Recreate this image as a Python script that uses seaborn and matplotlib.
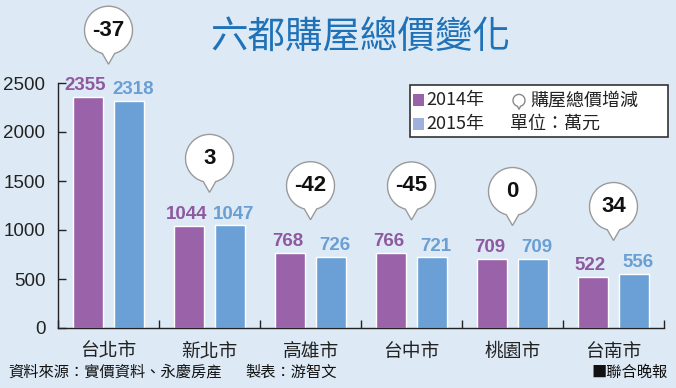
import pandas as pd
import matplotlib.pyplot as plt
import seaborn as sns
from matplotlib.path import Path
from matplotlib.patches import PathPatch, Rectangle
from matplotlib.transforms import ScaledTranslation
import numpy as np

# --- datos ---
ciudades = ['台北市', '新北市', '高雄市', '台中市', '桃園市', '台南市']
precio_2014 = [2355, 1044, 768, 766, 709, 522]
precio_2015 = [2318, 1047, 726, 721, 709, 556]
cambio = [-37, 3, -42, -45, 0, 34]
anios = ['2014年', '2015年']
y_ticks = [0, 500, 1000, 1500, 2000, 2500]

color_2014 = '#9a62a8'
color_2015 = '#6aa0d5'
fondo = '#ddeaf6'
cjk = ['Noto Sans CJK TC', 'DejaVu Sans']
num_font = ['Liberation Sans', 'DejaVu Sans']

df = pd.DataFrame({
    'ciudad': ciudades * 2,
    'anio': [anios[0]] * 6 + [anios[1]] * 6,
    'precio': precio_2014 + precio_2015,
})

sns.set_style('white')
plt.rcParams['font.family'] = cjk

fig = plt.figure(figsize=(6.76, 3.88), dpi=100, facecolor=fondo)
ax = fig.add_axes([58 / 676, 60 / 388, 606 / 676, 245 / 388])
ax.set_facecolor(fondo)

sns.barplot(data=df, x='ciudad', y='precio', hue='anio', order=ciudades,
            palette=[color_2014, color_2015], width=0.8, gap=0.25,
            saturation=1, legend=False, ax=ax)

ax.set_xlim(-0.5, 5.5)
ax.set_ylim(0, 2500)
ax.set_xlabel('')
ax.set_ylabel('')
for s in ['top', 'right']:
    ax.spines[s].set_visible(False)
for s in ['left', 'bottom']:
    ax.spines[s].set_color('#222222')
    ax.spines[s].set_linewidth(1.0)

ax.set_yticks(y_ticks)
ax.set_yticklabels([str(t) for t in y_ticks], family=num_font)
ax.tick_params(axis='y', direction='in', length=6, width=1, color='#222222',
               labelsize=13.5, pad=9, labelcolor='#222222', left=True)
ax.set_xticks(range(len(ciudades)))
ax.set_xticklabels(ciudades, fontweight='light')
ax.tick_params(axis='x', length=0, labelsize=13.5, pad=9, labelcolor='#222222')
ax.set_xticks(np.arange(-0.5, 6, 1), minor=True)
ax.tick_params(axis='x', which='minor', direction='in', length=6, width=1,
               color='#222222', bottom=True)

# etiquetas de valores, un poco separadas hacia afuera
for cont, col, dx in zip(ax.containers, ['#8e5a9f', '#6a9fd4'], [-2, 3]):
    lbls = ax.bar_label(cont, padding=2, fontsize=13.5, fontweight='bold', color=col,
                        family=num_font, clip_on=False)
    for t in lbls:
        t.set_x(t.get_position()[0])
        t.xyann = (dx, t.xyann[1])

# globos con la diferencia (unidades en pulgadas, punta a 0.33 in sobre la barra)
r = 0.24
ang = 15
alto_punta = 0.33
centro = 0.34
arc = Path.arc(-90 + ang, 270 - ang)
codes = [Path.MOVETO, Path.LINETO] + list(arc.codes[1:]) + [Path.LINETO, Path.CLOSEPOLY]
verts = [(0, alto_punta)] + [(x * r, y * r + alto_punta + centro) for x, y in arc.vertices] \
    + [(0, alto_punta), (0, alto_punta)]
globo = Path(verts, codes)

for i, d in enumerate(cambio):
    top = max(precio_2014[i], precio_2015[i])
    tr = fig.dpi_scale_trans + ScaledTranslation(i, top, ax.transData)
    ax.add_patch(PathPatch(globo, transform=tr, facecolor='white', edgecolor='#9a9a9a',
                           lw=1.0, clip_on=False, zorder=5))
    ax.annotate(str(d), xy=(i, top), xytext=(0, (alto_punta + centro) * 72),
                textcoords='offset points', ha='center', va='center', fontsize=16,
                fontweight='bold', color='#111111', family=num_font, zorder=6,
                annotation_clip=False)

# titulo
fig.text(0.533, 0.90, '六都購屋總價變化', ha='center', va='center', fontsize=27,
         fontweight='medium', color='#1f72b8')

# leyenda
fig.patches.append(Rectangle((410 / 676, 251 / 388), 258 / 676, 52 / 388,
                             transform=fig.transFigure, facecolor='white',
                             edgecolor='#333333', lw=1.2, zorder=3))
for yy, col in [(0.742, color_2014), (0.680, '#9fb0dc')]:
    fig.patches.append(Rectangle((413 / 676, yy - 6 / 388), 11 / 676, 12 / 388,
                                 transform=fig.transFigure, facecolor=col,
                                 edgecolor='none', zorder=4))
fig.text(426 / 676, 0.742, anios[0], color='#222222', fontsize=13, va='center', zorder=4)
fig.text(426 / 676, 0.680, anios[1], color='#222222', fontsize=13, va='center', zorder=4)
fig.text(530 / 676, 0.742, '購屋總價增減', color='#222222', fontsize=13, va='center', zorder=4)
fig.text(510 / 676, 0.680, '單位：萬元', color='#222222', fontsize=13, va='center', zorder=4)
icono = Path([(0, 0)] + [(x * 0.06, y * 0.06 + 0.09) for x, y in arc.vertices] + [(0, 0), (0, 0)], codes)
fig.patches.append(PathPatch(icono, transform=fig.dpi_scale_trans + ScaledTranslation(519 / 676, 0.718, fig.transFigure),
                             facecolor='white', edgecolor='#888888', lw=1.0, zorder=4))

# pie
fig.text(8 / 676, 0.041, '資料來源：實價資料、永慶房產', fontsize=11, va='center', color='#111111')
fig.text(245 / 676, 0.041, '製表：游智文', fontsize=11, va='center', color='#111111')
fig.text(668 / 676, 0.041, '■聯合晚報', fontsize=11, va='center', ha='right', color='#111111')

fig.savefig('out.png', dpi=100, facecolor=fondo)
